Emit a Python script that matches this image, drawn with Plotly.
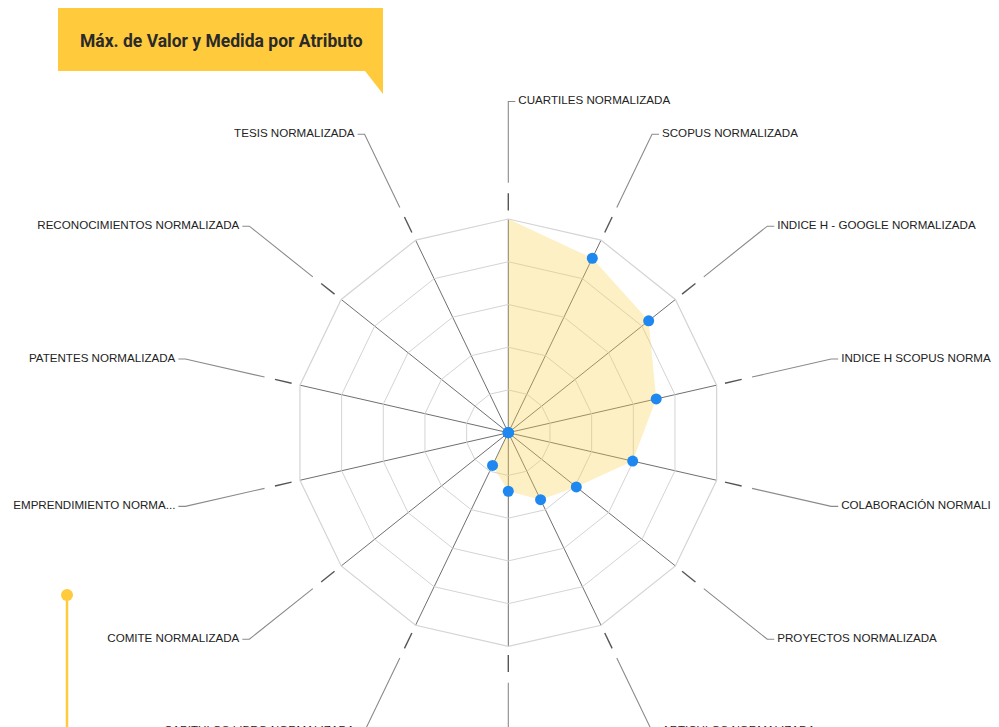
import numpy as np
import plotly.graph_objects as go

categories = [
    "CUARTILES NORMALIZADA", "SCOPUS NORMALIZADA", "INDICE H - GOOGLE NORMALIZADA",
    "INDICE H SCOPUS NORMALIZADA", "COLABORACIÓN NORMALIZADA", "PROYECTOS NORMALIZADA",
    "ARTICULOS NORMALIZADA", "LIBROS NORMALIZADA", "CAPITULOS LIBRO NORMALIZADA",
    "COMITE NORMALIZADA", "EMPRENDIMIENTO NORMALIZADA", "PATENTES NORMALIZADA",
    "RECONOCIMIENTOS NORMALIZADA", "TESIS NORMALIZADA",
]
labels = [
    "CUARTILES NORMALIZADA", "SCOPUS NORMALIZADA", "INDICE H - GOOGLE NORMALIZADA",
    "INDICE H SCOPUS NORMA...", "COLABORACIÓN NORMALI...", "PROYECTOS NORMALIZADA",
    "ARTICULOS NORMALIZADA", "LIBROS NORMALIZADA", "CAPITULOS LIBRO NORMALIZADA",
    "COMITE NORMALIZADA", "EMPRENDIMIENTO NORMA...", "PATENTES NORMALIZADA",
    "RECONOCIMIENTOS NORMALIZADA", "TESIS NORMALIZADA",
]
values = [1.0, 0.906, 0.84, 0.71, 0.597, 0.407, 0.348, 0.274, 0.17, 0, 0, 0, 0, 0]
title = "Máx. de Valor y Medida por Atributo"

W, H = 999, 727
OFF = 8                               # the page body margin shifts the figure by 8px
CX, CY, RAD = 508.3 - OFF, 432.7 - OFF, 213.7   # centre/radius in figure pixels (y down)
YELLOW = "#FFCB3D"


def fx(x):
    return x - OFF


def fy(y):
    return H - (y - OFF)


fig = go.Figure()

# radar fill and markers (zeros nudged a hair off the pole so plotly draws them)
fig.add_trace(go.Scatterpolar(
    r=values, theta=categories, fill="toself", mode="none",
    fillcolor="rgba(250,210,80,0.33)", hoverinfo="skip",
))
fig.add_trace(go.Scatterpolar(
    r=np.maximum(values[1:], 1e-4), theta=categories[1:], mode="markers",
    cliponaxis=False, marker=dict(color="#1E88F0", size=11),
))

# leader lines from the outer ring out to the labels
n = len(categories)
ang = np.radians(np.arange(n) * 360 / n)
dash_x, dash_y, lead_x, lead_y = [], [], [], []
rx, ry, rt, lx, ly, lt = [], [], [], [], [], []
for a, lab in zip(ang, labels):
    s, c = np.sin(a), np.cos(a)
    px = lambda k: CX + k * RAD * s
    py = lambda k: H - (CY - k * RAD * c)
    dash_x += [px(1.04), px(1.12), None]
    dash_y += [py(1.04), py(1.12), None]
    side = 1 if s >= -1e-9 else -1
    ex = px(1.55) + side * 7
    lead_x += [px(1.17), px(1.55), ex, None]
    lead_y += [py(1.17), py(1.55), py(1.55), None]
    if side > 0:
        rx.append(ex + 3); ry.append(py(1.55)); rt.append(lab)
    else:
        lx.append(ex - 3); ly.append(py(1.55)); lt.append(lab)

fig.add_trace(go.Scatter(x=dash_x, y=dash_y, mode="lines",
                         line=dict(color="#555555", width=1.4), hoverinfo="skip"))
fig.add_trace(go.Scatter(x=lead_x, y=lead_y, mode="lines",
                         line=dict(color="#8a8a8a", width=1.1), hoverinfo="skip"))
lab_font = dict(family="Liberation Sans, Arial", size=11.6, color="#222222")
fig.add_trace(go.Scatter(x=rx, y=ry, mode="text", text=rt, textposition="middle right",
                         textfont=lab_font, hoverinfo="skip"))
fig.add_trace(go.Scatter(x=lx, y=ly, mode="text", text=lt, textposition="middle left",
                         textfont=lab_font, hoverinfo="skip"))

# title box with speech-bubble tab, and the yellow marker line on the left
fig.add_shape(type="rect", x0=fx(58), x1=fx(383), y0=fy(71), y1=fy(7),
              fillcolor=YELLOW, line_width=0, layer="below")
fig.add_shape(type="path",
              path=f"M {fx(365)} {fy(71)} L {fx(383)} {fy(71)} L {fx(383)} {fy(94)} Z",
              fillcolor=YELLOW, line_width=0, layer="below")
fig.add_annotation(x=fx(221), y=fy(41), text=f"<b>{title}</b>", showarrow=False,
                   font=dict(family="Roboto", size=17.5, color="#2a2a2a"))
fig.add_shape(type="line", x0=fx(67), x1=fx(67), y0=fy(596), y1=-5,
              line=dict(color=YELLOW, width=2.5))
fig.add_shape(type="circle", x0=fx(61), x1=fx(73), y0=fy(601), y1=fy(589),
              fillcolor=YELLOW, line_width=0)

fig.update_layout(
    width=W, height=H,
    margin=dict(l=0, r=0, t=0, b=0),
    paper_bgcolor="white", plot_bgcolor="rgba(0,0,0,0)",
    showlegend=False,
    xaxis=dict(range=[0, W], visible=False, fixedrange=True),
    yaxis=dict(range=[0, H], visible=False, fixedrange=True),
    polar=dict(
        domain=dict(x=[(CX - RAD) / W, (CX + RAD) / W],
                    y=[(H - CY - RAD) / H, (H - CY + RAD) / H]),
        bgcolor="rgba(0,0,0,0)",
        gridshape="linear",
        radialaxis=dict(range=[0, 1], tickvals=[0.2, 0.4, 0.6, 0.8],
                        showticklabels=False, ticks="", showline=False,
                        gridcolor="#d4d4d4", gridwidth=1.2),
        angularaxis=dict(direction="clockwise", rotation=90, ticks="",
                         showticklabels=False, showline=True, linecolor="#d4d4d4",
                         linewidth=1.2, gridcolor="#6f6f6f", gridwidth=1.3),
    ),
)

fig.write_html("out.html")
